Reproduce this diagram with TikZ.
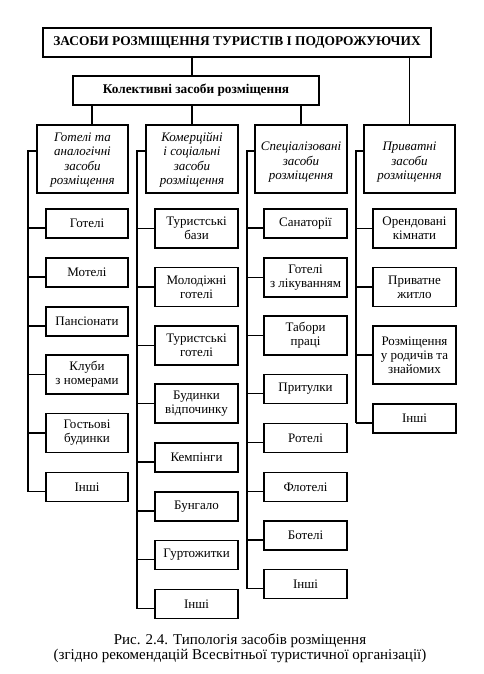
\documentclass[tikz,border=0pt]{standalone}
\usepackage{fontspec}
\setmainfont{Liberation Serif}
\newcommand{\catlines}[2]{\raisebox{#1}[0pt][0pt]{\begin{tabular}{@{}c@{}}#2\end{tabular}}}
\begin{document}
\begin{tikzpicture}[x=1pt,y=-1pt,
  box/.style={draw=black, line width=1.3pt, inner sep=0pt, align=center, fill=white},
  itemtxt/.style={font=\fontsize{13}{14}\selectfont},
  cattxt/.style={font=\fontsize{13}{14.5}\selectfont\itshape},
  wa/.style={minimum width=82pt},
  wb/.style={minimum width=83pt},
  hone/.style={minimum height=29pt},
  htwo/.style={minimum height=39pt},
  hthree/.style={minimum height=58pt},
  link/.style={draw=black, line width=1.3pt}
]
\useasboundingbox (0,0) rectangle (483,674);

% top levels
\node[box, line width=1.5pt, minimum width=388pt, minimum height=29pt, font=\fontsize{13.4}{14}\selectfont\bfseries] (top) at (237,42.5) {ЗАСОБИ РОЗМІЩЕННЯ ТУРИСТІВ І ПОДОРОЖУЮЧИХ};
\node[box, minimum width=246pt, minimum height=29pt, font=\fontsize{13.3}{14}\selectfont\bfseries] (coll) at (196,90.5) {Колективні засоби розміщення};

% categories
\node[box, cattxt, minimum width=91pt, minimum height=68pt] (cat1) at (82.5,159) {\catlines{-4.25pt}{Готелі та\\аналогічні\\засоби\\розміщення}};
\node[box, cattxt, minimum width=92pt, minimum height=68pt] (cat2) at (192,159) {\catlines{-4.25pt}{Комерційні\\і соціальні\\засоби\\розміщення}};
\node[box, cattxt, minimum width=92pt, minimum height=68pt] (cat3) at (301,159) {\catlines{-6.25pt}{Спеціалізовані\\засоби\\розміщення}};
\node[box, cattxt, minimum width=91pt, minimum height=68pt] (cat4) at (409.5,159) {\catlines{-6.25pt}{Приватні\\засоби\\розміщення}};

\coordinate (k1) at (92,125);
\draw[link] (top.south -| cat2.north) -- (coll.north -| cat2.north);
\draw[link] (top.south -| cat4.north) -- (cat4.north);
\draw[link] (coll.south -| k1) -- (k1);
\draw[link] (coll.south -| cat2.north) -- (cat2.north);
\draw[link] (coll.south -| cat3.north) -- (cat3.north);

% column 1
\node[box, itemtxt, wa, hone]  (c1a) at (87,223.5) {Готелі};
\node[box, itemtxt, wa, hone]  (c1b) at (87,272.5) {Мотелі};
\node[box, itemtxt, wa, hone]  (c1c) at (87,321.5) {Пансіонати};
\node[box, itemtxt, wa, htwo]  (c1d) at (87,374.5) {Клуби\\з номерами};
\node[box, itemtxt, wa, htwo]  (c1e) at (87,433) {Гостьові\\будинки};
\node[box, itemtxt, wa, hone]  (c1f) at (87,487) {Інші};

% column 2
\node[box, itemtxt, wb, htwo]  (c2a) at (196.5,228.5) {Туристські\\бази};
\node[box, itemtxt, wb, htwo]  (c2b) at (196.5,287) {Молодіжні\\готелі};
\node[box, itemtxt, wb, htwo]  (c2c) at (196.5,345.5) {Туристські\\готелі};
\node[box, itemtxt, wb, htwo]  (c2d) at (196.5,403.5) {Будинки\\відпочинку};
\node[box, itemtxt, wb, hone]  (c2e) at (196.5,457.5) {Кемпінги};
\node[box, itemtxt, wb, hone]  (c2f) at (196.5,506.5) {Бунгало};
\node[box, itemtxt, wb, hone]  (c2g) at (196.5,555) {Гуртожитки};
\node[box, itemtxt, wb, hone]  (c2h) at (196.5,604) {Інші};

% column 3
\node[box, itemtxt, wb, hone]  (c3a) at (305.5,223.5) {Санаторії};
\node[box, itemtxt, wb, htwo]  (c3b) at (305.5,277.5) {Готелі\\з лікуванням};
\node[box, itemtxt, wb, htwo]  (c3c) at (305.5,335.5) {Табори\\праці};
\node[box, itemtxt, wb, hone]  (c3d) at (305.5,389) {Притулки};
\node[box, itemtxt, wb, hone]  (c3e) at (305.5,438) {Ротелі};
\node[box, itemtxt, wb, hone]  (c3f) at (305.5,487) {Флотелі};
\node[box, itemtxt, wb, hone]  (c3g) at (305.5,535.5) {Ботелі};
\node[box, itemtxt, wb, hone]  (c3h) at (305.5,584) {Інші};

% column 4
\node[box, itemtxt, wb, htwo]  (c4a) at (414.5,228.5) {Орендовані\\кімнати};
\node[box, itemtxt, wb, htwo]  (c4b) at (414.5,287) {Приватне\\житло};
\node[box, itemtxt, wb, hthree] (c4c) at (414.5,355) {Розміщення\\у родичів та\\знайомих};
\node[box, itemtxt, wb, hone]  (c4d) at (414.5,418.5) {Інші};

% spines
\coordinate (s1) at (28,151);
\coordinate (s2) at (137,151);
\coordinate (s3) at (247,151);
\coordinate (s4) at (356,151);

\foreach \c/\n in {1/c1a,1/c1b,1/c1c,1/c1f,2/c2e,2/c2f,2/c2g,2/c2h,3/c3a,3/c3d,3/c3e,3/c3f,3/c3g,3/c3h,4/c4d}{
  \draw[link] ([yshift=-4.5pt]\n.west -| s\c) -- ([yshift=-4.5pt]\n.west);
}
\foreach \c/\n in {1/c1d,1/c1e,2/c2a,2/c2b,2/c2c,2/c2d,3/c3b,3/c3c,4/c4a,4/c4b,4/c4c}{
  \draw[link] (\n.west -| s\c) -- (\n.west);
}
\draw[link] (s1 -| cat1.west) -- (s1) -- ([yshift=-4.5pt]c1f.west -| s1);
\draw[link] (s2 -| cat2.west) -- (s2) -- ([yshift=-4.5pt]c2h.west -| s2);
\draw[link] (s3 -| cat3.west) -- (s3) -- ([yshift=-4.5pt]c3h.west -| s3);
\draw[link] (s4 -| cat4.west) -- (s4) -- ([yshift=-4.5pt]c4d.west -| s4);

% caption
\node[align=center, inner sep=0pt, font=\fontsize{15}{13.5}\selectfont] (cap) at (240,648) {Рис. 2.4. Типологія засобів розміщення\\(згідно рекомендацій Всесвітньої туристичної організації)};
\end{tikzpicture}
\end{document}
